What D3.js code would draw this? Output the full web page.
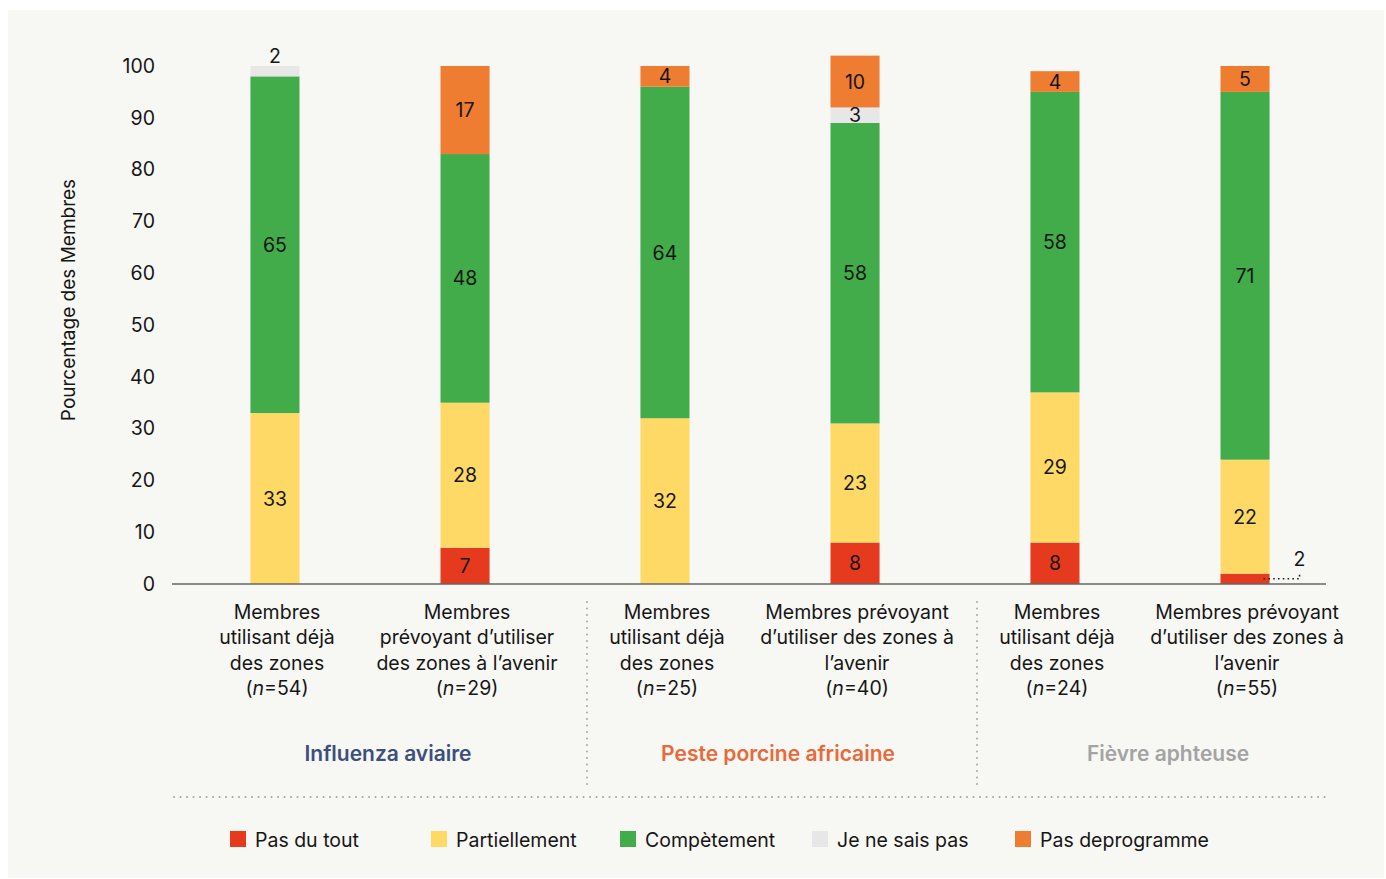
<!DOCTYPE html>
<html lang="fr">
<head>
<meta charset="utf-8">
<script src="https://cdn.jsdelivr.net/npm/d3@7"></script>
<style>
  html, body { margin: 0; padding: 0; background: #ffffff; }
  svg { display: block; font-family: Inter, "Liberation Sans", sans-serif; }
</style>
</head>
<body>
<svg id="chart" width="1386" height="879"></svg>
<script>
// ---- data ----
const categories = [
  ["Membres", "utilisant déjà", "des zones", "54"],
  ["Membres", "prévoyant d’utiliser", "des zones à l’avenir", "29"],
  ["Membres", "utilisant déjà", "des zones", "25"],
  ["Membres prévoyant", "d’utiliser des zones à", "l’avenir", "40"],
  ["Membres", "utilisant déjà", "des zones", "24"],
  ["Membres prévoyant", "d’utiliser des zones à", "l’avenir", "55"]
];
const groups = ["Influenza aviaire", "Peste porcine africaine", "Fièvre aphteuse"];
const seriesNames = ["Pas du tout", "Partiellement", "Compètement", "Je ne sais pas", "Pas deprogramme"];
const pasDuTout      = [0, 7, 0, 8, 8, 2];
const partiellement  = [33, 28, 32, 23, 29, 22];
const completement   = [65, 48, 64, 58, 58, 71];
const jeNeSaisPas    = [2, 0, 0, 3, 0, 0];
const pasDeProgramme = [0, 17, 4, 10, 4, 5];
const yTicks = [0, 10, 20, 30, 40, 50, 60, 70, 80, 90, 100];

// ---- styling ----
const colors = ["#e63a1f", "#fed966", "#42ab4a", "#e7e7e7", "#ee7d32"];
const groupColors = ["#3c4f7e", "#e8693a", "#a3a3a3"];
const textColor = "#161616";

const svg = d3.select("#chart");

// background panel
svg.append("rect").attr("x", 8).attr("y", 10).attr("width", 1376).attr("height", 868)
  .attr("fill", "#f7f7f3");

const seriesValues = [pasDuTout, partiellement, completement, jeNeSaisPas, pasDeProgramme];
const rows = categories.map((c, i) => {
  const r = { idx: i };
  seriesNames.forEach((s, k) => r[s] = seriesValues[k][i]);
  return r;
});

// nested band scales: disease group, then the two bars inside each group
const x0 = d3.scaleBand().domain(d3.range(groups.length)).range([175, 1345]);
const x1 = d3.scaleBand().domain([0, 1]).range([0, x0.bandwidth()])
  .paddingInner(0.742).paddingOuter(0.397);
const xPos = i => x0(Math.floor(i / 2)) + x1(i % 2);
const bw = x1.bandwidth();
const y = d3.scaleLinear().domain([0, 100]).range([584, 66]);

const stack = d3.stack().keys(seriesNames)(rows);

// y axis labels
const yAxis = d3.axisLeft(y).tickValues(yTicks).tickSize(0).tickPadding(0);
const yg = svg.append("g").attr("transform", "translate(155,0)").call(yAxis);
yg.select(".domain").remove();
yg.selectAll("text").attr("font-size", 19.5).attr("fill", textColor)
  .attr("font-family", "Inter, sans-serif").attr("dy", "0.32em");

svg.append("text")
  .attr("transform", "translate(75,300) rotate(-90)")
  .attr("text-anchor", "middle").attr("font-size", 19).attr("fill", textColor)
  .text("Pourcentage des Membres");

// stacked bars
const layers = svg.append("g").selectAll("g").data(stack).join("g")
  .attr("fill", (d, k) => colors[k]);
layers.selectAll("rect").data(d => d.filter(p => p[1] - p[0] > 0)).join("rect")
  .attr("x", d => xPos(d.data.idx))
  .attr("width", bw)
  .attr("y", d => y(d[1]))
  .attr("height", d => y(d[0]) - y(d[1]));

// baseline
svg.append("line").attr("x1", 172).attr("x2", 1326).attr("y1", y(0)).attr("y2", y(0))
  .attr("stroke", "#666").attr("stroke-width", 1.5);

// value labels
const labelG = svg.append("g").attr("font-size", 19.5).attr("fill", textColor)
  .attr("text-anchor", "middle");
stack.forEach((layer, k) => {
  layer.forEach(p => {
    const v = p[1] - p[0];
    if (v <= 0) return;
    const cx = xPos(p.data.idx) + bw / 2;
    const isTop = p[1] === d3.max(stack, l => l[p.data.idx][1]);
    if (v >= 3) {
      labelG.append("text").attr("x", cx).attr("y", (y(p[0]) + y(p[1])) / 2)
        .attr("dy", "0.36em").text(v);
    } else if (isTop) {
      labelG.append("text").attr("x", cx).attr("y", y(p[1]) - 3).text(v);
    } else {
      // small segment: label to the right with a dotted leader
      const xr = xPos(p.data.idx) + bw;
      const ym = (y(p[0]) + y(p[1])) / 2;
      const lx = xr + 30;
      svg.append("path")
        .attr("d", `M${xr - 6},${ym} H${lx} V${ym - 7}`)
        .attr("fill", "none").attr("stroke", "#222").attr("stroke-width", 1.6)
        .attr("stroke-dasharray", "1.6,3.2");
      labelG.append("text").attr("x", lx).attr("y", ym - 13).text(v);
    }
  });
});

// category labels
const catG = svg.append("g").attr("font-size", 19.5).attr("fill", textColor)
  .attr("text-anchor", "middle");
categories.forEach((lines, i) => {
  const cx = xPos(i) + bw / 2 + 2;
  const t = catG.append("text").attr("x", cx).attr("y", 619);
  lines.slice(0, 3).forEach((ln, j) => {
    t.append("tspan").attr("x", cx).attr("y", 619 + j * 25.4).text(ln);
  });
  const last = t.append("tspan").attr("x", cx).attr("y", 619 + 3 * 25.4);
  last.text("(");
  t.append("tspan").attr("font-style", "italic").text("n");
  t.append("tspan").text("=" + lines[3] + ")");
});

// group separators and titles
const sep = svg.append("g").attr("stroke", "#a8a8a8").attr("stroke-width", 2)
  .attr("stroke-dasharray", "0.1,6.4").attr("stroke-linecap", "round");
[1, 2].forEach(g => {
  const sx = x0(g) + 22;
  sep.append("line").attr("x1", sx).attr("x2", sx).attr("y1", 602).attr("y2", 790);
});
sep.append("line").attr("x1", 174).attr("x2", 1327).attr("y1", 797).attr("y2", 797);

groups.forEach((g, gi) => {
  svg.append("text").attr("x", x0(gi) + x0.bandwidth() / 2 + 18).attr("y", 761)
    .attr("text-anchor", "middle").attr("font-size", 21).attr("font-weight", 600)
    .attr("fill", groupColors[gi]).text(g);
});

// legend
const legendX = [230, 431, 620, 812, 1015];
const lg = svg.append("g").attr("font-size", 19.5).attr("fill", textColor);
seriesNames.forEach((s, k) => {
  lg.append("rect").attr("x", legendX[k]).attr("y", 831).attr("width", 16).attr("height", 16)
    .attr("fill", colors[k]);
  lg.append("text").attr("x", legendX[k] + 25).attr("y", 840).attr("dy", "0.36em").text(s);
});
</script>
</body>
</html>
